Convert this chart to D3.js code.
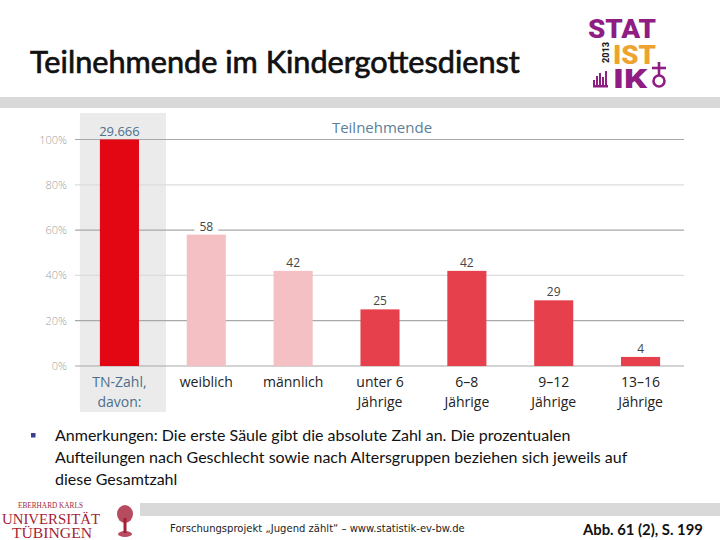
<!DOCTYPE html>
<html><head><meta charset="utf-8">
<script src="https://cdn.jsdelivr.net/npm/d3@7"></script>
<style>html,body{margin:0;padding:0;background:#fff;}svg{display:block;}</style>
</head><body>
<script>
// ---- data ----
const categories = ["TN-Zahl, davon:", "weiblich", "männlich", "unter 6 Jährige", "6–8 Jährige", "9–12 Jährige", "13–16 Jährige"];
const categoryLines = [["TN-Zahl,", "davon:"], ["weiblich"], ["männlich"], ["unter 6", "Jährige"], ["6–8", "Jährige"], ["9–12", "Jährige"], ["13–16", "Jährige"]];
const values = [100, 58, 42, 25, 42, 29, 4];
const valueLabels = ["29.666", "58", "42", "25", "42", "29", "4"];
const groups = ["total", "gender", "gender", "age", "age", "age", "age"];
const yTicks = [0, 20, 40, 60, 80, 100];
const noteLines = [
  "Anmerkungen: Die erste Säule gibt die absolute Zahl an. Die prozentualen",
  "Aufteilungen nach Geschlecht sowie nach Altersgruppen beziehen sich jeweils auf",
  "diese Gesamtzahl"
];

const W = 720, H = 540;
const svg = d3.select("body").append("svg").attr("width", W).attr("height", H);

function fit(sel, target) {
  const n = sel.node();
  const w = n.getComputedTextLength();
  const fs = parseFloat(sel.attr("font-size"));
  sel.attr("font-size", (fs * target / w).toFixed(2));
  return sel;
}

// header
const title = svg.append("text").attr("x", 30).attr("y", 73)
  .attr("font-family", "Lato, 'Open Sans', sans-serif").attr("font-weight", 400)
  .attr("font-size", 27).attr("fill", "#111").attr("stroke", "#111").attr("stroke-width", 0.7)
  .text("Teilnehmende im Kindergottesdienst");
fit(title, 490);

svg.append("rect").attr("x", 0).attr("y", 97).attr("width", W).attr("height", 11).attr("fill", "#d9d9d9");

// STATISTIK logo
const purple = "#8f1d82", orange = "#eea22f";
const lg = svg.append("g").attr("font-family", "Roboto, 'DejaVu Sans', sans-serif").attr("font-weight", 900);
lg.append("text").attr("x", 588).attr("y", 38).attr("font-size", 26).attr("fill", purple)
  .attr("textLength", 68).attr("lengthAdjust", "spacingAndGlyphs").text("STAT");
lg.append("text").attr("x", 613).attr("y", 64).attr("font-size", 26).attr("fill", orange)
  .attr("textLength", 43).attr("lengthAdjust", "spacingAndGlyphs").text("IST");
lg.append("text").attr("x", 613).attr("y", 88).attr("font-size", 26).attr("fill", purple)
  .attr("textLength", 34).attr("lengthAdjust", "spacingAndGlyphs").text("IK");
lg.append("text").attr("transform", "translate(609,63) rotate(-90)").attr("font-size", 8.5)
  .attr("fill", "#222").attr("textLength", 21).attr("lengthAdjust", "spacingAndGlyphs").text("2013");
// small bars icon
[[593, 80], [596, 76], [599, 73], [602, 77], [605, 71]].forEach(([bx, by]) => {
  lg.append("rect").attr("x", bx).attr("y", by).attr("width", 2).attr("height", 86 - by).attr("fill", purple);
});
lg.append("rect").attr("x", 593).attr("y", 85).attr("width", 15).attr("height", 2.5).attr("fill", purple);
// female symbol
lg.append("circle").attr("cx", 659).attr("cy", 81).attr("r", 5.5).attr("fill", "none").attr("stroke", purple).attr("stroke-width", 2.6);
lg.append("line").attr("x1", 659).attr("x2", 659).attr("y1", 62).attr("y2", 75.5).attr("stroke", purple).attr("stroke-width", 2.6);
lg.append("line").attr("x1", 652).attr("x2", 666).attr("y1", 68).attr("y2", 68).attr("stroke", purple).attr("stroke-width", 2.6);

// ---- chart ----
const x = d3.scaleBand().domain(categories).range([76, 684]).paddingInner(0.55).paddingOuter(0.275);
const y = d3.scaleLinear().domain([0, 100]).range([366, 139.5]);
const bw = x.bandwidth();

const colorOf = { total: "#e30613", gender: "#f4c0c3", age: "#e6404d" };

// highlight panel behind first column
svg.append("rect").attr("x", x(categories[0]) - 20).attr("y", 113)
  .attr("width", bw + 47).attr("height", 299).attr("fill", "#ebebeb");

// gridlines
svg.append("g").selectAll("line").data(yTicks).join("line")
  .attr("x1", 75).attr("x2", 684).attr("y1", d => y(d)).attr("y2", d => y(d))
  .attr("stroke", d => (d === 40 || d === 80) ? "#dcdcdc" : "#a8a8a8").attr("stroke-width", 1.2);

// y axis labels
const yAxis = d3.axisLeft(y).tickValues(yTicks).tickFormat(d => d + "%").tickSize(0).tickPadding(0);
const ya = svg.append("g").attr("transform", "translate(67,0)").call(yAxis);
ya.select(".domain").remove();
ya.selectAll("text").attr("font-family", "'Open Sans', sans-serif").attr("font-size", 11)
  .attr("fill", "#a0a0a0").attr("font-weight", 300);

// chart title
svg.append("text").attr("x", 382).attr("y", 133).attr("text-anchor", "middle")
  .attr("font-family", "'Open Sans', sans-serif").attr("font-size", 15).attr("fill", "#5a7f9b").text("Teilnehmende");

// bars
svg.append("g").selectAll("rect").data(categories).join("rect")
  .attr("x", d => x(d)).attr("width", bw)
  .attr("y", (d, i) => y(values[i])).attr("height", (d, i) => y(0) - y(values[i]))
  .attr("fill", (d, i) => colorOf[groups[i]]);

// value labels
const vl = svg.append("g").attr("font-family", "'Open Sans', sans-serif").attr("font-size", 12).attr("text-anchor", "middle");
categories.forEach((c, i) => {
  const cx = x(c) + bw / 2;
  const by = y(values[i]) - 4;
  const t = vl.append("text").attr("x", cx).attr("y", by)
    .attr("fill", i === 0 ? "#4d6f8c" : "#444").attr("font-size", i === 0 ? 13 : 12).text(valueLabels[i]);
  if (i > 0) {
    const bb = t.node().getBBox();
    vl.insert("rect", "text").attr("x", bb.x - 5).attr("y", bb.y + 1).attr("width", bb.width + 10)
      .attr("height", bb.height - 2).attr("fill", "#fff");
  }
});

// x labels
const xl = svg.append("g").attr("font-family", "'Open Sans', sans-serif").attr("font-size", 14).attr("text-anchor", "middle");
categories.forEach((c, i) => {
  categoryLines[i].forEach((ln, j) => {
    xl.append("text").attr("x", x(c) + bw / 2).attr("y", 387 + j * 20)
      .attr("fill", i === 0 ? "#4d6f8c" : "#222").text(ln);
  });
});

// ---- note ----
svg.append("rect").attr("x", 31).attr("y", 433).attr("width", 4.5).attr("height", 4.5).attr("fill", "#3a3f92");
const note = svg.append("g").attr("font-family", "Lato, 'Open Sans', sans-serif").attr("font-size", 16).attr("fill", "#111");
const noteTargets = [537, 597, 155];
noteLines.forEach((ln, i) => {
  const t = note.append("text").attr("x", 55).attr("y", 441 + i * 22).text(ln);
  fit(t, noteTargets[i]);
});

// ---- footer ----
svg.append("rect").attr("x", 140).attr("y", 503).attr("width", W - 140).attr("height", 13).attr("fill", "#d9d9d9");
const ft = svg.append("text").attr("x", 170).attr("y", 532).attr("font-family", "'DejaVu Sans', sans-serif")
  .attr("font-size", 10).attr("fill", "#222").text("Forschungsprojekt „Jugend zählt“ – www.statistik-ev-bw.de");
fit(ft, 295);
const ab = svg.append("text").attr("x", 583).attr("y", 535).attr("font-family", "Lato, sans-serif").attr("font-weight", 700)
  .attr("font-size", 15).attr("fill", "#111").text("Abb. 61 (2), S. 199");
fit(ab, 120);

// university logo
const uc = "#a51e37";
const ug = svg.append("g").attr("font-family", "'Liberation Serif', serif").attr("fill", uc);
fit(ug.append("text").attr("x", 18).attr("y", 508).attr("font-size", 7).text("EBERHARD KARLS"), 65);
ug.append("text").attr("x", 2).attr("y", 524).attr("font-size", 15)
  .attr("textLength", 98).attr("lengthAdjust", "spacingAndGlyphs").text("UNIVERSITÄT");
ug.append("text").attr("x", 12).attr("y", 538).attr("font-size", 15)
  .attr("textLength", 80).attr("lengthAdjust", "spacingAndGlyphs").text("TÜBINGEN");
// tree
ug.append("ellipse").attr("cx", 125).attr("cy", 514).attr("rx", 8).attr("ry", 9).attr("fill", uc).attr("opacity", 0.8);
ug.append("rect").attr("x", 123.5).attr("y", 518).attr("width", 3).attr("height", 15).attr("fill", uc);
ug.append("ellipse").attr("cx", 125).attr("cy", 534).attr("rx", 7).attr("ry", 3).attr("fill", uc).attr("opacity", 0.8);
</script>
</body></html>
